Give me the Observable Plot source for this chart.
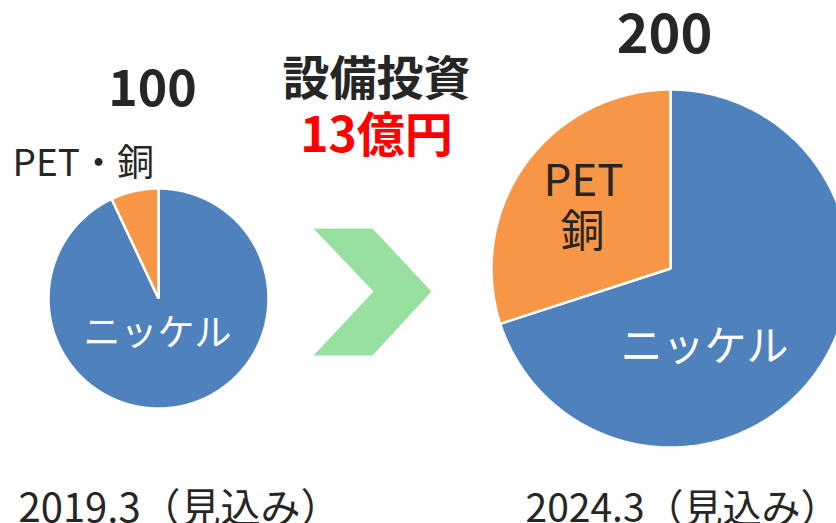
<!DOCTYPE html>
<html>
<head>
<meta charset="utf-8">
<script src="https://cdn.jsdelivr.net/npm/d3@7"></script>
<script src="https://cdn.jsdelivr.net/npm/@observablehq/plot@0.6"></script>
<style>
  html, body { margin: 0; padding: 0; background: #ffffff; }
  #chart svg { display: block; }
</style>
</head>
<body>
<div id="chart"></div>
<script>
// ---- data ----
const segments = ["ニッケル", "PET・銅"];
const values2019 = [93, 7];
const values2024 = [140, 60];
const totals = ["100", "200"];
const periodLabels = ["2019.3（見込み）", "2024.3（見込み）"];
const investTitle = "設備投資";
const investAmount = "13億円";
const colors = ["#4F81BD", "#F79646"];

// ---- layout ----
const W = 836, H = 523;
const FONT = "'Noto Sans CJK JP', 'Noto Sans', sans-serif";
const pies = [
  {cx: 158, cy: 298, r: 110, values: values2019},
  {cx: 670, cy: 268, r: 179, values: values2024}
];

// build slice polygons from values via d3.pie
const slicePts = [];
pies.forEach((p, pi) => {
  const arcs = d3.pie().sort(null)(p.values);
  arcs.forEach((a, si) => {
    const id = pi + "-" + si;
    slicePts.push({id, seg: segments[si], x: p.cx, y: p.cy});
    const n = Math.max(2, Math.ceil((a.endAngle - a.startAngle) / 0.01));
    for (let k = 0; k <= n; k++) {
      const t = a.startAngle + (a.endAngle - a.startAngle) * k / n;
      slicePts.push({id, seg: segments[si], x: p.cx + p.r * Math.sin(t), y: p.cy - p.r * Math.cos(t)});
    }
  });
});

// chevron arrow shape (decoration)
const chevron = [
  {x: 313, y: 228}, {x: 372, y: 228}, {x: 431, y: 291},
  {x: 372, y: 355}, {x: 313, y: 355}, {x: 373, y: 291}
];

const texts = [
  {x: 152, y: 89, t: totals[0], size: 50, w: "bold", fill: "#262626", a: "middle"},
  {x: 664, y: 35, t: totals[1], size: 54, w: "bold", fill: "#262626", a: "middle"},
  {x: 376, y: 79, t: investTitle, size: 47, w: "bold", fill: "#262626", a: "middle"},
  {x: 376, y: 136, t: investAmount, size: 48, w: "bold", fill: "#FF0000", a: "middle"},
  {x: 12, y: 164, t: segments[1], size: 37, w: "normal", fill: "#262626", a: "start"},
  {x: 157, y: 334, t: segments[0], size: 37, w: "normal", fill: "#ffffff", a: "middle"},
  {x: 704, y: 347, t: segments[0], size: 42, w: "normal", fill: "#ffffff", a: "middle"},
  {x: 583, y: 181, t: "PET", size: 44, w: "normal", fill: "#262626", a: "middle"},
  {x: 582, y: 232, t: segments[1].slice(-1), size: 44, w: "normal", fill: "#262626", a: "middle"},
  {x: 18, y: 509, t: periodLabels[0], size: 40, w: "normal", fill: "#262626", a: "start"},
  {x: 525, y: 509, t: periodLabels[1], size: 39, w: "normal", fill: "#262626", a: "start"}
];

const textMarks = texts.map(d => Plot.text([d], {
  x: "x", y: "y", text: "t",
  fontSize: d.size, fontWeight: d.w, fill: d.fill,
  textAnchor: d.a, lineAnchor: "middle", fontFamily: FONT
}));

const chart = Plot.plot({
  width: W, height: H,
  margin: 0,
  x: {domain: [0, W], range: [0, W], axis: null},
  y: {domain: [0, H], range: [0, H], axis: null},
  color: {domain: segments, range: colors},
  style: {fontFamily: FONT, background: "#ffffff", overflow: "hidden"},
  marks: [
    Plot.line(chevron, {x: "x", y: "y", fill: "#98E0A0", stroke: "none", curve: "linear-closed"}),
    Plot.line(slicePts, {x: "x", y: "y", z: "id", fill: "seg", stroke: "#ffffff", strokeWidth: 2.5, strokeLinejoin: "miter", curve: "linear-closed"}),
    ...textMarks
  ]
});
document.getElementById("chart").appendChild(chart);
</script>
</body>
</html>
